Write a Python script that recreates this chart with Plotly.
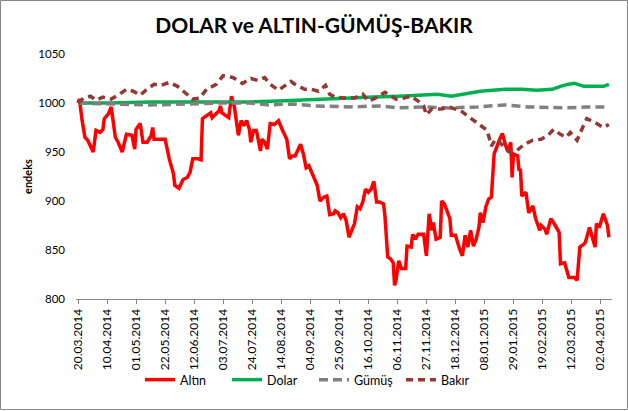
import pandas as pd
import plotly.graph_objects as go

BASLANGIC = pd.Timestamp("2014-03-20")

# gun = 20.03.2014'ten itibaren gecen gun sayisi
altin_gun = [
    0, 1, 3, 5, 7, 11, 13, 16, 18, 19,
    22, 24, 27, 29, 32, 35, 39, 41, 42, 45,
    47, 50, 53, 54, 55, 60, 63, 66, 69, 70,
    73, 76, 79, 81, 83, 87, 89, 90, 93, 96,
    97, 100, 102, 103, 104, 109, 111, 113, 116, 118,
    120, 122, 124, 125, 127, 129, 132, 133, 135, 137,
    139, 142, 145, 148, 151, 153, 155, 157, 159, 161,
    163, 165, 167, 169, 173, 175, 178, 180, 182, 185,
    186, 188, 190, 192, 194, 196, 198, 200, 202, 204,
    206, 208, 210, 212, 214, 216, 218, 221, 222, 224,
    226, 228, 229, 230, 232, 234, 237, 238, 241, 242,
    244, 246, 250, 252, 254, 256, 257, 259, 262, 263,
    265, 269, 270, 273, 276, 278, 280, 282, 284, 286,
    288, 290, 291, 293, 295, 297, 299, 300, 301, 305,
    307, 309, 311, 313, 314, 315, 318, 319, 320, 321,
    324, 326, 329, 331, 334, 335, 338, 339, 342, 344,
    348, 349, 352, 355, 359, 361, 363, 366, 367, 370,
    373, 374, 375, 377, 380, 383, 384
]
altin = [
    1000, 1004, 982, 965, 962, 950, 972, 970, 973, 984,
    989, 996, 965, 960, 950, 968, 967, 953, 973, 979,
    960, 960, 967, 975, 963, 963, 963, 943, 928, 916,
    913, 922, 924, 929, 943, 943, 942, 984, 987, 990,
    985, 989, 992, 997, 990, 985, 1007, 997, 967, 982,
    977, 982, 973, 960, 972, 972, 951, 963, 960, 953,
    979, 978, 982, 972, 963, 943, 946, 946, 953, 958,
    948, 934, 936, 929, 916, 900, 904, 905, 886, 887,
    890, 888, 883, 887, 880, 863, 871, 877, 894, 892,
    899, 912, 909, 912, 920, 899, 899, 897, 885, 843,
    841, 837, 814, 819, 839, 831, 831, 854, 853, 866,
    861, 866, 866, 844, 887, 870, 878, 861, 863, 900,
    897, 882, 865, 865, 851, 844, 865, 853, 870, 854,
    861, 873, 888, 878, 894, 902, 904, 928, 948, 963,
    969, 958, 950, 960, 924, 948, 946, 931, 933, 905,
    909, 888, 895, 882, 870, 875, 871, 866, 882, 878,
    868, 836, 837, 822, 822, 819, 853, 856, 858, 873,
    860, 853, 877, 873, 887, 875, 863
]

dolar_gun = [
    0, 23, 52, 88, 124, 145, 167, 186, 196, 214,
    232, 250, 260, 270, 282, 291, 309, 321, 332, 343,
    349, 354, 359, 366, 373, 380, 384
]
dolar = [
    1000, 1000, 1001, 1001, 1001, 1002, 1003, 1004, 1005, 1006,
    1007, 1008, 1009, 1007, 1010, 1012, 1014, 1014, 1013, 1014,
    1017, 1019, 1020, 1017, 1017, 1017, 1019
]

gumus_gun = [
    0, 23, 52, 81, 102, 124, 138, 155, 172, 196,
    219, 232, 251, 268, 289, 309, 325, 352, 368, 384
]
gumus = [
    1000, 999, 998, 999, 1000, 1000, 998, 999, 997, 996,
    997, 995, 996, 995, 996, 998, 996, 995, 996, 996
]

bakir_gun = [
    0, 4, 9, 13, 18, 24, 30, 35, 40, 45,
    49, 55, 60, 66, 72, 77, 83, 88, 93, 100,
    105, 112, 119, 125, 130, 135, 139, 145, 154, 157,
    164, 169, 174, 179, 182, 186, 193, 200, 206, 210,
    215, 222, 227, 230, 236, 241, 246, 250, 252, 256,
    263, 268, 277, 284, 290, 296, 299, 302, 308, 312,
    317, 323, 329, 335, 340, 344, 349, 353, 356, 361,
    365, 368, 374, 380, 384
]
bakir = [
    1000, 1005, 1007, 1003, 1006, 1004, 1009, 1014, 1012, 1008,
    1013, 1019, 1018, 1021, 1017, 1011, 1004, 1005, 1014, 1019,
    1028, 1026, 1020, 1025, 1023, 1026, 1019, 1013, 1022, 1019,
    1014, 1014, 1012, 1018, 1009, 1006, 1005, 1005, 1009, 1002,
    1005, 1011, 1006, 1004, 1005, 1007, 1002, 997, 988, 994,
    994, 996, 992, 985, 979, 972, 956, 963, 956, 950,
    951, 958, 962, 963, 967, 973, 968, 965, 970, 962,
    975, 984, 980, 975, 978
]

assert len(altin_gun) == len(altin)
assert len(dolar_gun) == len(dolar)
assert len(gumus_gun) == len(gumus)
assert len(bakir_gun) == len(bakir)


def tarihler(gunler):
    return BASLANGIC + pd.to_timedelta(gunler, unit="D")


def seri_ekle(fig, gunler, degerler, isim, renk, kalinlik=3, kesik=None):
    fig.add_trace(
        go.Scatter(
            x=tarihler(gunler),
            y=degerler,
            name=isim,
            mode="lines",
            line=dict(
                color=renk,
                width=kalinlik,
                dash=kesik
            )
        )
    )


fig = go.Figure()

seri_ekle(fig, altin_gun, altin, "Altın", "#FF0000", 3.5)
seri_ekle(fig, dolar_gun, dolar, "Dolar", "#00B050", 3.5)
seri_ekle(fig, gumus_gun, gumus, "Gümüş", "#808080", 3.5, "9px,5px")
seri_ekle(fig, bakir_gun, bakir, "Bakır", "#953735", 3.5, "7px,5px")

FONT = "Lato, 'Open Sans', sans-serif"

fig.update_layout(
    width=628,
    height=411,
    font=dict(family=FONT, size=11, color="#000000"),
    title=dict(
        text="<b>DOLAR ve ALTIN-GÜMÜŞ-BAKIR</b>",
        x=0.5,
        xref="container",
        xanchor="center",
        yref="container",
        y=1 - 26 / 411,
        yanchor="middle",
        font=dict(size=21, color="#000000")
    ),
    xaxis=dict(
        type="date",
        automargin=False,
        range=["2014-03-18 13:00", "2015-04-10 06:00"],
        tick0="2014-03-20",
        dtick=21 * 86400000,
        tickformat="%d.%m.%Y",
        tickangle=-90,
        tickfont=dict(size=12),
        showgrid=False,
        showline=True,
        linecolor="#868686",
        linewidth=1,
        ticks="outside",
        ticklen=4,
        tickcolor="#868686",
        zeroline=False
    ),
    yaxis=dict(
        automargin=False,
        range=[800, 1050],
        dtick=50,
        showgrid=False,
        showline=False,
        zeroline=False,
        tickfont=dict(size=11.5),
        ticklabelstandoff=10,
        title=dict(
            text="<b>endeks</b>",
            font=dict(size=11),
            standoff=3
        )
    ),
    legend=dict(
        orientation="h",
        xref="container",
        yref="container",
        x=0.5,
        xanchor="center",
        y=1 - 380 / 411,
        yanchor="middle",
        font=dict(size=12.5),
        bgcolor="rgba(0,0,0,0)",
        itemwidth=30,
        entrywidth=42,
        traceorder="normal"
    ),
    plot_bgcolor="white",
    paper_bgcolor="white",
    margin=dict(l=76, r=16, t=54, b=112),
    shapes=[
        dict(
            type="rect",
            xref="paper",
            yref="paper",
            x0=-75.5 / 536,
            x1=551.5 / 536,
            y0=-110.5 / 245,
            y1=298.5 / 245,
            line=dict(color="#868686", width=1),
            layer="below"
        )
    ]
)

# sayfa kenar boslugunu kaldir
fig.write_html(
    "out.html",
    config={"displayModeBar": False},
    post_script="document.body.style.margin='0';"
)
